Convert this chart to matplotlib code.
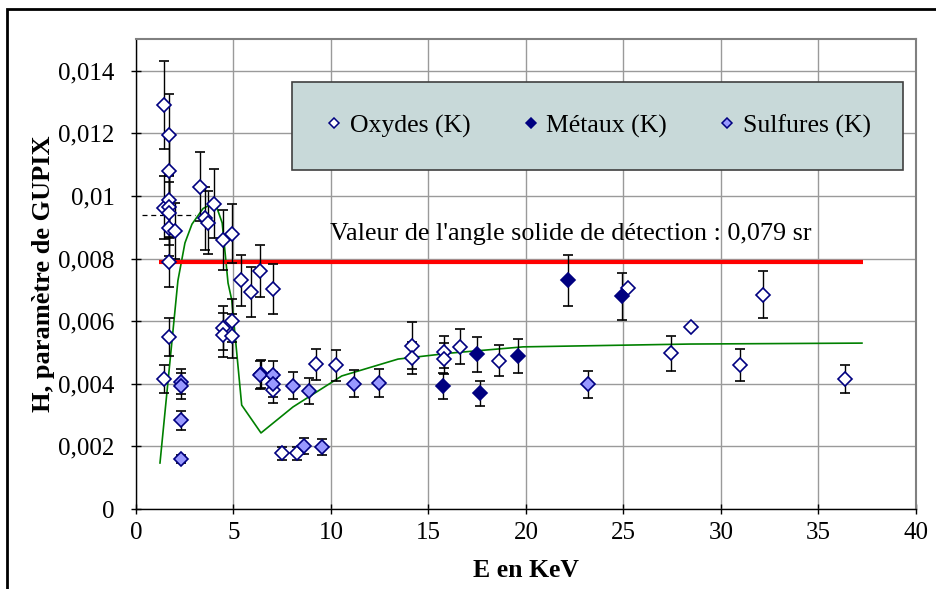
import numpy as np
import matplotlib
matplotlib.use('Agg')
import matplotlib.pyplot as plt
from matplotlib.ticker import FuncFormatter, MultipleLocator
from matplotlib.patches import Rectangle
from matplotlib.lines import Line2D

plt.rcParams['font.family'] = ['Liberation Serif', 'DejaVu Serif']

# Oxydes (K) : open diamonds
ox_E = [1.45, 1.71, 1.71, 1.45, 1.71, 1.71, 1.71, 1.71, 2.0, 1.71,
        3.28, 3.54, 3.68, 4.0, 4.48, 4.91, 5.38, 5.9, 6.36, 7.04,
        1.71, 1.45, 4.48, 4.48, 4.91, 4.91, 7.04, 9.23, 10.26, 14.14,
        14.14, 15.81, 15.81, 16.62, 18.62, 7.47, 8.24, 27.45, 28.46, 32.17,
        30.97, 36.36, 25.25]
ox_H = [0.01291, 0.01195, 0.01081, 0.00963, 0.00987, 0.00966, 0.00945, 0.00899, 0.00888, 0.00788,
        0.0103, 0.00929, 0.00915, 0.00975, 0.0086, 0.0088, 0.0073, 0.00694, 0.0076, 0.00702,
        0.00549, 0.00415, 0.00579, 0.00556, 0.00602, 0.00553, 0.0038, 0.00462, 0.00459, 0.00522,
        0.00482, 0.00502, 0.0048, 0.00519, 0.00474, 0.00178, 0.00178, 0.00497, 0.00581, 0.00684,
        0.0046, 0.00415, 0.00705]
ox_err = [0.0014, 0.0013, 0.0011, 0.0010, 0.0010, 0.0010, 0.0010, 0.0009, 0.0009, 0.0008,
          0.0011, 0.0010, 0.0010, 0.0011, 0.00095, 0.00095, 0.0008, 0.0008, 0.00084, 0.0008,
          0.0006, 0.00044, 0.0007, 0.0007, 0.0007, 0.0007, 0.0004, 0.0005, 0.0005, 0.00075,
          0.0005, 0.0005, 0.0005, 0.00055, 0.0005, 0.0002, 0.0002, 0.00055, 0.0, 0.00075,
          0.0005, 0.00045, 0.0]

# Métaux (K) : filled navy diamonds
met_E = [6.4, 15.76, 17.47, 17.64, 19.59, 22.14, 24.91]
met_H = [0.00432, 0.00393, 0.00494, 0.0037, 0.0049, 0.0073, 0.0068]
met_err = [0.00045, 0.00043, 0.00055, 0.0004, 0.00054, 0.0008, 0.00075]

# Sulfures (K) : light blue diamonds
sul_E = [2.31, 2.31, 2.31, 2.31, 6.36, 7.04, 7.04, 8.04, 8.89, 11.19,
         12.48, 23.16, 8.62, 9.55]
sul_H = [0.00407, 0.00393, 0.00284, 0.00159, 0.00428, 0.00428, 0.00398, 0.00394, 0.00377, 0.004,
         0.00402, 0.00398, 0.00201, 0.00199]
sul_err = [0.0004, 0.0004, 0.0003, 0.00012, 0.00045, 0.00045, 0.0004, 0.00043, 0.00042, 0.00043,
           0.00044, 0.00043, 0.00025, 0.00025]

# green curve
fit_E = [1.23, 2.15, 2.51, 2.87, 3.44, 4.05, 4.42, 4.72, 4.91, 5.42,
         6.41, 8.05, 10.55, 13.44, 16.1, 19.85, 28.4, 37.23]
fit_H = [0.00147, 0.0073, 0.0085, 0.0091, 0.0096, 0.0098, 0.00914, 0.00722, 0.00668, 0.00332,
         0.00243, 0.00326, 0.00425, 0.00479, 0.00498, 0.00518, 0.00527, 0.0053]

# solid angle reference line
ref_E = [1.2, 37.3]
ref_H = [0.00788, 0.00788]
dash_E = [0.32, 3.03]
dash_H = [0.0094, 0.0094]

fig = plt.figure(figsize=(9.36, 5.89), dpi=100)
ax = fig.add_axes([0.1453, 0.1358, 0.8333, 0.7972])

ax.grid(True, color='#9a9a9a', lw=1)
ax.set_axisbelow(True)

ax.plot(fit_E, fit_H, color='#008000', lw=1.2, zorder=2)
ax.plot(ref_E, ref_H, color='#ff0000', lw=3, zorder=2, solid_capstyle='butt')
ax.plot(dash_E, dash_H, color='black', lw=0.9, ls=(0, (4, 3)), zorder=2)

ekw = dict(ecolor='black', elinewidth=1, capsize=3.5, capthick=1, ls='none', zorder=3)
ax.errorbar(ox_E, ox_H, yerr=ox_err, fmt='D', ms=7, mfc='white', mec='#000080', mew=1.2, **ekw)
ax.errorbar(met_E, met_H, yerr=met_err, fmt='D', ms=7, mfc='#000080', mec='#000080', mew=1.2, **ekw)
ax.errorbar(sul_E, sul_H, yerr=sul_err, fmt='D', ms=7, mfc='#9999ff', mec='#000080', mew=1.2, **ekw)

ax.text(9.95, 0.0086, "Valeur de l'angle solide de détection : 0,079 sr",
        fontsize=18.8, ha='left', va='baseline')

ax.set_xlim(0, 40)
ax.set_ylim(0, 0.015)
ax.xaxis.set_major_locator(MultipleLocator(5))
ax.set_yticks(np.arange(0, 0.0141, 0.002))
ax.yaxis.set_major_formatter(FuncFormatter(lambda v, p: ('%g' % round(v, 4)).replace('.', ',')))
ax.tick_params(direction='inout', length=7, width=1, labelsize=18)
ax.tick_params(axis='y', pad=12)
ax.tick_params(axis='x', pad=6)

for s in ['left', 'bottom']:
    ax.spines[s].set_color('black')
    ax.spines[s].set_linewidth(1)
for s in ['top', 'right']:
    ax.spines[s].set_color('#808080')
    ax.spines[s].set_linewidth(1.5)

ax.set_xlabel('E en KeV', fontsize=18.5, fontweight='bold', labelpad=11)
ax.set_ylabel('H, paramètre de GUPIX', fontsize=19, fontweight='bold', labelpad=2)

handles = [
    Line2D([], [], ls='none', marker='D', ms=5.5, mfc='white', mec='#000080', mew=1.1),
    Line2D([], [], ls='none', marker='D', ms=5.5, mfc='#000080', mec='#000080', mew=1.1),
    Line2D([], [], ls='none', marker='D', ms=5.5, mfc='#9999ff', mec='#000080', mew=1.1),
]
labels = ['Oxydes (K)', 'Métaux (K)', 'Sulfures (K)']
leg = ax.legend(handles, labels, loc='center', bbox_to_anchor=(0.2, 0.726, 0.783, 0.179),
                mode='expand', borderaxespad=0, ncol=3, fontsize=18.5, frameon=True,
                fancybox=False, framealpha=1, facecolor='#c8d9d9', edgecolor='#404040',
                borderpad=1.25, handlelength=0.8, handletextpad=0.2)
leg.get_frame().set_linewidth(1.2)

fig.patches.append(Rectangle((0.0075, -0.1), 1.2, 0.9847 + 0.1, transform=fig.transFigure,
                             fill=False, lw=2, edgecolor='black'))

fig.savefig('out.png', dpi=100)
